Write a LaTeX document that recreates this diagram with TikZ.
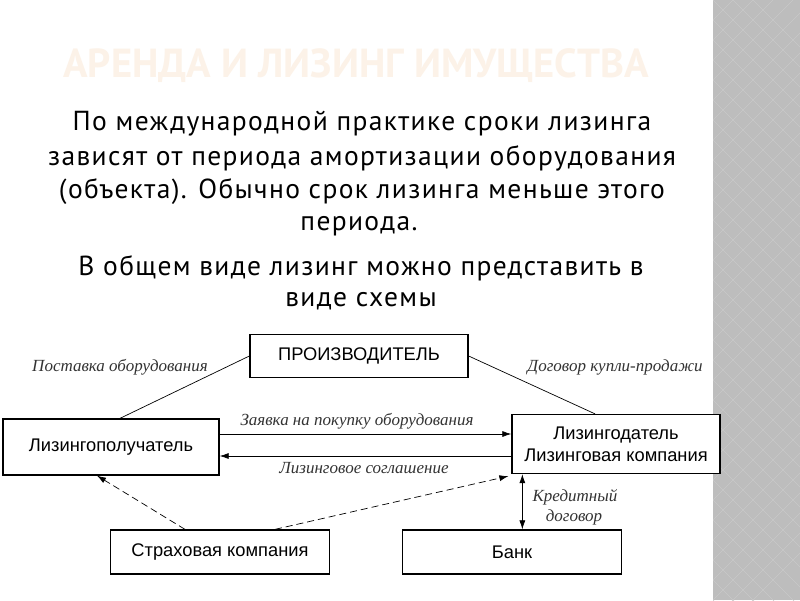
\documentclass[tikz,border=0pt]{standalone}
\usepackage{fontspec}
\setmainfont{Liberation Sans}
\newfontfamily\bodyfont[LetterSpace=5]{PT Sans}
\newfontfamily\titlefont{PT Sans}
\newfontfamily\labfont{Liberation Serif}
\usetikzlibrary{arrows.meta}
\definecolor{stripgray}{HTML}{BDBDBD}
\definecolor{stripline}{HTML}{C9C9C9}
\definecolor{titlecol}{HTML}{FCF2E8}
\tikzset{
  box/.style={draw=black, line width=1.3pt, fill=white, minimum height=43pt, inner sep=0pt, font=\fontsize{18.3}{22}\selectfont, align=center},
  lab/.style={font=\labfont\itshape\fontsize{17}{20}\selectfont, inner sep=0pt, text=black!80},
  bodyline/.style={font=\bodyfont\fontsize{27.5}{30}\selectfont, inner sep=0pt},
  conn/.style={line width=0.7pt},
  tip/.style={-{Latex[length=9pt,width=6pt]}},
}
\begin{document}
\begin{tikzpicture}[x=1pt,y=-1pt]
\useasboundingbox (0,0) rectangle (800,600);
\fill[white] (0,0) rectangle (800,600);
% right strip
\fill[stripgray] (713,0) rectangle (800,600);
\begin{scope}
\clip (713,0) rectangle (800,600);
\foreach \k in {-40,-20,...,640} {
  \draw[stripline, line width=0.6pt] (713,\k) -- ++(100,100);
  \draw[stripline, line width=0.6pt] (713,\k) -- ++(100,-100);
}
\end{scope}
% title
\node[font=\titlefont\bfseries\fontsize{40.5}{46}\selectfont, text=titlecol, inner sep=0pt] (title) at (356,66) {АРЕНДА И ЛИЗИНГ ИМУЩЕСТВА};
% body text
\node[bodyline] (t1) at (362,124) {По международной практике сроки лизинга};
\node[bodyline] (t2) at (362,158) {зависят от периода амортизации оборудования};
\node[bodyline] (t3) at (362,192) {(объекта). Обычно срок лизинга меньше этого};
\node[bodyline] (t4) at (359,226) {периода.};
\node[bodyline] (t5) at (361,268) {В общем виде лизинг можно представить в};
\node[bodyline] (t6) at (361,301) {виде схемы};
% boxes
\node[box, minimum width=218pt] (prod) at (359,356) {ПРОИЗВОДИТЕЛЬ};
\node[box, minimum width=216pt, minimum height=56pt] (lp) at (111,447) {Лизингополучатель};
\node[box, minimum width=208pt, minimum height=59pt] (ld) at (616,444) {Лизингодатель\\Лизинговая компания};
\node[box, minimum width=219pt, minimum height=44pt] (ins) at (220,552) {Страховая компания};
\node[box, minimum width=219pt, minimum height=44pt] (bank) at (512,552) {Банк};
% connectors
\draw[conn] ([xshift=9pt]lp.north) -- (prod.west);
\draw[conn] (prod.east) -- ([xshift=-21pt]ld.north);
\draw[conn, tip] ([yshift=13pt]lp.east) -- ([yshift=13pt]lp.east -| ld.west);
\draw[conn, tip] ([yshift=-9pt]lp.east -| ld.west) -- ([yshift=-9pt]lp.east);
\draw[conn, tip, dashed, dash pattern=on 7pt off 4pt] ([xshift=-35pt]ins.north) -- ([xshift=-14pt]lp.south);
\draw[conn, tip, dashed, dash pattern=on 7pt off 4pt] ([xshift=55pt]ins.north) -- ([xshift=-3pt,yshift=-2pt]ld.south west);
\draw[conn, {Latex[length=9pt,width=6pt]}-{Latex[length=9pt,width=6pt]}] ([xshift=11pt]ld.south west) -- ([xshift=11pt]ld.south west |- bank.north);
% labels
\node[lab] (l1) at (120,367) {Поставка оборудования};
\node[lab] (l2) at (615,367) {Договор купли-продажи};
\node[lab] (l3) at (357,421) {Заявка на покупку оборудования};
\node[lab] (l4) at (364,468) {Лизинговое соглашение};
\node[lab] (l5) at (575,497) {Кредитный};
\node[lab] (l6) at (574,517) {договор};
\end{tikzpicture}
\end{document}
